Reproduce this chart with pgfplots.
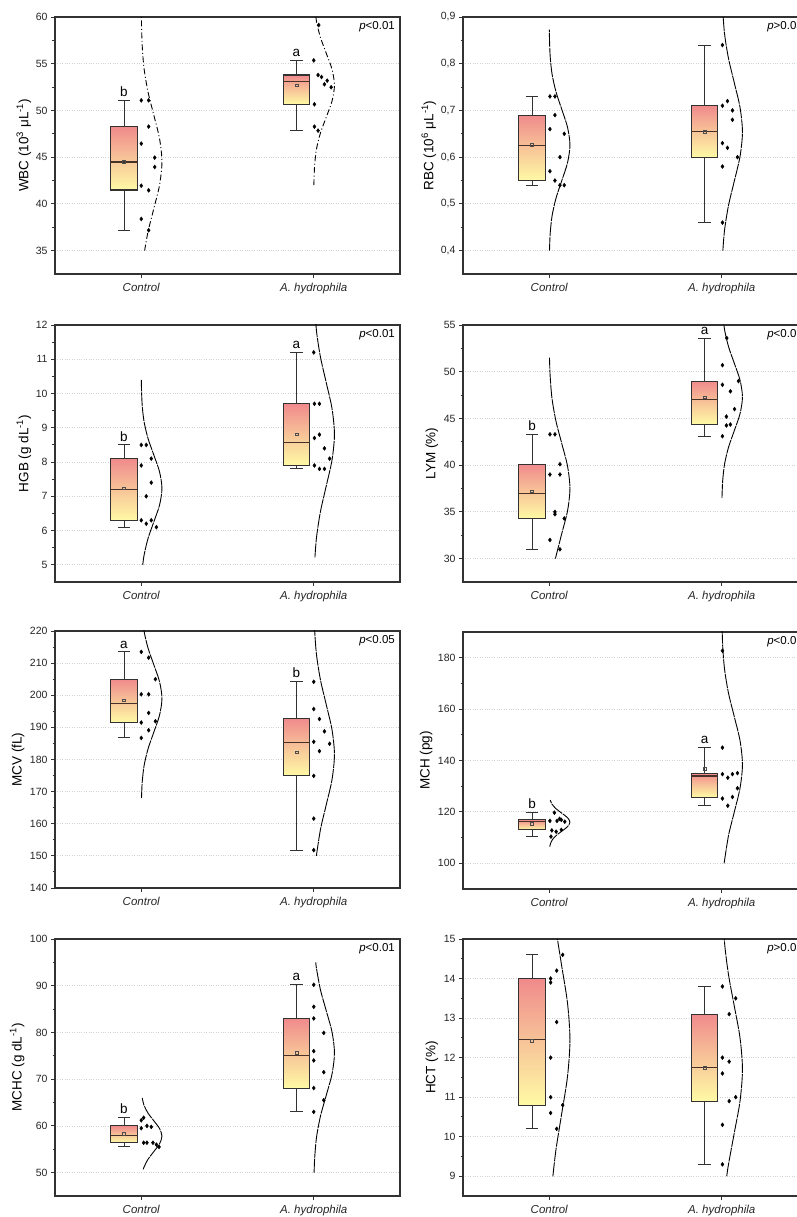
\documentclass[border=0pt]{standalone}
\usepackage{fontspec}
\setmainfont{Liberation Sans}
\usepackage{pgfplots}
\pgfplotsset{compat=1.18}

\definecolor{boxtop}{RGB}{240,138,140}
\definecolor{boxmid}{RGB}{247,196,152}
\definecolor{boxbot}{RGB}{255,250,165}
\definecolor{edge}{RGB}{50,50,50}
\definecolor{medc}{RGB}{70,50,40}

\pgfplotsset{
  /pgf/number format/assume math mode=true,
  panel/.style={
    scale only axis, width=345pt, height=257pt, anchor=south west,
    xmin=0.5, xmax=2.5, xtick={1,2}, xticklabels={Control, A. hydrophila},
    tick pos=left, tick align=outside, minor y tick num=1, minor x tick num=0,
    major tick length=4pt, minor tick length=2.5pt,
    every tick/.style={edge, line width=0.9pt},
    axis line style={edge, line width=1.2pt},
    ymajorgrids, grid style={dotted, black!18, line width=0.8pt},
    yticklabel style={font=\fontsize{10.5}{12}\selectfont, black!85},
    xticklabel style={font=\fontsize{11.5}{13}\selectfont\itshape, black!85, yshift=-2pt},
    ylabel style={font=\fontsize{13.5}{15}\selectfont, anchor=center},
    clip mode=individual,
  },
  whisk/.style={edge, line width=1pt, no markers, unbounded coords=jump},
  boxst/.style={draw=edge, line width=1.1pt, no markers, top color=boxtop, bottom color=boxbot, middle color=boxmid},
  medst/.style={medc, line width=1.2pt, no markers},
  meanst/.style={only marks, mark=square, mark size=1.3pt, mark options={draw=black!70, line width=0.5pt}},
  pts/.style={only marks, mark=diamond*, mark size=2pt, black},
  curve/.style={black, line width=0.9pt, smooth, no markers, dash pattern=on 14pt off 0.9pt},
}
\tikzset{
  lett/.style={anchor=south, inner sep=1pt, yshift=2.5pt, font=\fontsize{13.5}{14}\selectfont},
  pv/.style={anchor=north east, inner sep=0pt, xshift=-5pt, yshift=-4pt, font=\fontsize{11.5}{13}\selectfont},
}

% box: #1 = 0 (Control) or 1 (A. hydrophila); lower whisker, q1, median, q3, upper whisker, mean
\newcommand\bx[7]{%
  \addplot[whisk] coordinates {(#1.9,#2) (#1.9,#6)};
  \addplot[whisk] coordinates {(#1.865,#2) (#1.935,#2) (nan,nan) (#1.865,#6) (#1.935,#6)};
  \addplot[boxst] coordinates {(#1.823,#3) (#1.977,#3) (#1.977,#5) (#1.823,#5)} -- cycle;
  \addplot[medst] coordinates {(#1.823,#4) (#1.977,#4)};
  \addplot[meanst] coordinates {(#1.9,#7)};
}

\begin{document}
\begin{tikzpicture}
\useasboundingbox (0,0) rectangle (797pt,1217pt);
\clip (0,0) rectangle (797pt,1217pt);

% ---------------- WBC
\begin{axis}[panel, at={(55pt,943pt)}, ymin=32.5, ymax=60, ytick={35,40,45,50,55,60},
  ylabel={WBC (10\textsuperscript{3} μL\textsuperscript{-1})}, ylabel style={at={(axis description cs:-0.09,0.5)}}]
\bx{0}{37.18}{41.49}{44.49}{48.27}{51.08}{44.5}
\bx{1}{47.84}{50.66}{53.08}{53.79}{55.36}{52.71}
\addplot[pts] coordinates {(1,51.08) (1.043,51.08) (1.043,48.27) (1,46.45) (1.078,44.95) (1.078,43.95) (1,41.95) (1.043,41.45) (1,38.39) (1.043,37.18)};
\addplot[pts] coordinates {(2.0,55.36) (2.029,59.14) (2.025,53.79) (2.045,53.58) (2.078,53.19) (2.062,52.8) (2.101,52.48) (2.004,50.66) (2.004,48.27) (2.025,47.84)};
\addplot[curve, dash pattern=on 6pt off 2.5pt on 1pt off 2.5pt] coordinates {(1.0197,35) (1.039,37.0) (1.0728,39.5) (1.1059,42.0) (1.12,44.5) (1.1059,47.0) (1.0728,49.5) (1.039,52.0) (1.0162,54.5) (1.0053,57.0) (1.0013,59.5) (1.0003,62.0)};
\addplot[curve, dash pattern=on 6pt off 2.5pt on 1pt off 2.5pt] coordinates {(2.0009,42) (2.0013,42.5) (2.0053,44.2) (2.0162,45.9) (2.039,47.6) (2.0728,49.3) (2.1059,51.0) (2.12,52.7) (2.1059,54.4) (2.0728,56.1) (2.039,57.8) (2.0162,59.5) (2.0053,61.2)};
\node[lett] at (axis cs:0.9,51.08) {b};
\node[lett] at (axis cs:1.9,55.36) {a};
\node[pv] at (rel axis cs:1,1) {\textit{p}<0.01};
\end{axis}

% ---------------- RBC
\begin{axis}[panel, at={(463pt,943pt)}, ymin=0.35, ymax=0.9, ytick={0.4,0.5,0.6,0.7,0.8,0.9},
  yticklabel style={/pgf/number format/.cd, fixed, fixed zerofill, precision=1, use comma},
  ylabel={RBC (10\textsuperscript{6} μL\textsuperscript{-1})}, ylabel style={at={(axis description cs:-0.099,0.5)}}]
\bx{0}{0.54}{0.55}{0.625}{0.69}{0.73}{0.626}
\bx{1}{0.46}{0.60}{0.655}{0.71}{0.84}{0.654}
\addplot[pts] coordinates {(1.004,0.73) (1.033,0.73) (1.033,0.69) (1.004,0.66) (1.087,0.65) (1.062,0.60) (1.004,0.57) (1.033,0.55) (1.062,0.54) (1.087,0.54)};
\addplot[pts] coordinates {(2.004,0.84) (2.004,0.71) (2.033,0.72) (2.062,0.70) (2.062,0.68) (2.004,0.63) (2.033,0.62) (2.091,0.60) (2.004,0.58) (2.004,0.46)};
\addplot[curve] coordinates {(1.0015,0.40) (1.0053,0.436) (1.0162,0.474) (1.039,0.512) (1.0728,0.550) (1.1059,0.588) (1.12,0.626) (1.1059,0.664) (1.0728,0.702) (1.039,0.740) (1.0162,0.778) (1.0053,0.816) (1.0013,0.854) (1.0006,0.873)};
\addplot[curve] coordinates {(2.0064,0.40) (2.0162,0.444) (2.039,0.4965) (2.0728,0.549) (2.1059,0.6015) (2.12,0.654) (2.1059,0.7065) (2.0728,0.759) (2.039,0.8115) (2.0162,0.864) (2.0053,0.9165)};
\node[pv] at (rel axis cs:1,1) {\textit{p}>0.05};
\end{axis}

% ---------------- HGB
\begin{axis}[panel, at={(55pt,635pt)}, ymin=4.5, ymax=12, ytick={5,6,7,8,9,10,11,12},
  ylabel={HGB (g dL\textsuperscript{-1})}, ylabel style={at={(axis description cs:-0.09,0.5)}}]
\bx{0}{6.1}{6.3}{7.2}{8.1}{8.5}{7.23}
\bx{1}{7.8}{7.9}{8.56}{9.7}{11.2}{8.81}
\addplot[pts] coordinates {(1,8.5) (1.029,8.5) (1.058,8.1) (1,7.9) (1.058,7.4) (1.029,7.0) (1,6.3) (1.058,6.3) (1.029,6.2) (1.088,6.1)};
\addplot[pts] coordinates {(2.0,11.2) (2.004,9.7) (2.033,9.7) (2.004,8.7) (2.033,8.8) (2.062,8.4) (2.092,8.1) (2.004,7.9) (2.033,7.8) (2.062,7.8)};
\addplot[curve] coordinates {(1.0089,5.0) (1.0162,5.278) (1.039,5.766) (1.0728,6.254) (1.1059,6.742) (1.12,7.23) (1.1059,7.718) (1.0728,8.206) (1.039,8.694) (1.0162,9.182) (1.0053,9.67) (1.0013,10.158) (1.0006,10.4)};
\addplot[curve] coordinates {(2.0069,5.22) (2.0162,5.81) (2.039,6.56) (2.0728,7.31) (2.1059,8.06) (2.12,8.81) (2.1059,9.56) (2.0728,10.31) (2.039,11.06) (2.0162,11.81) (2.0053,12.56)};
\node[lett] at (axis cs:0.9,8.5) {b};
\node[lett] at (axis cs:1.9,11.2) {a};
\node[pv] at (rel axis cs:1,1) {\textit{p}<0.01};
\end{axis}

% ---------------- LYM
\begin{axis}[panel, at={(463pt,635pt)}, ymin=27.5, ymax=55, ytick={30,35,40,45,50,55},
  ylabel={LYM (\%)}, ylabel style={at={(axis description cs:-0.09,0.5)}}]
\bx{0}{31.0}{34.3}{37.0}{40.1}{43.3}{37.2}
\bx{1}{43.1}{44.4}{47.0}{49.0}{53.6}{47.27}
\addplot[pts] coordinates {(1.004,43.3) (1.033,43.3) (1.062,40.1) (1.004,39.0) (1.062,39.0) (1.033,35.0) (1.033,34.75) (1.087,34.3) (1.004,32.0) (1.062,31.0)};
\addplot[pts] coordinates {(2.029,53.6) (2.004,50.7) (2.004,48.6) (2.097,49.0) (2.05,47.9) (2.074,46.0) (2.027,45.2) (2.027,44.25) (2.05,44.35) (2.004,43.1)};
\addplot[curve] coordinates {(1.0354,30.0) (1.0728,32.7) (1.1059,35.1) (1.12,37.5) (1.1059,39.9) (1.0728,42.3) (1.039,44.7) (1.0162,47.1) (1.0053,49.5) (1.0014,51.5)};
\addplot[curve] coordinates {(2.0013,36.5) (2.0053,38.3) (2.0162,40.1) (2.039,41.9) (2.0728,43.7) (2.1059,45.5) (2.12,47.3) (2.1059,49.1) (2.0728,50.9) (2.039,52.7) (2.0162,54.5) (2.0053,56.3)};
\node[lett] at (axis cs:0.9,43.3) {b};
\node[lett] at (axis cs:1.9,53.6) {a};
\node[pv] at (rel axis cs:1,1) {\textit{p}<0.01};
\end{axis}

% ---------------- MCV
\begin{axis}[panel, at={(55pt,329pt)}, ymin=140, ymax=220, ytick={140,150,160,170,180,190,200,210,220},
  ylabel={MCV (fL)}, ylabel style={at={(axis description cs:-0.107,0.5)}}]
\bx{0}{186.7}{191.5}{197.4}{205.0}{213.5}{198.45}
\bx{1}{151.8}{174.9}{185.2}{192.7}{204.2}{182.3}
\addplot[pts] coordinates {(1,213.5) (1.043,211.7) (1.082,205.0) (1,200.3) (1.043,200.3) (1.043,194.5) (1.082,191.9) (1,191.5) (1.043,189.1) (1,186.7)};
\addplot[pts] coordinates {(2,204.2) (2,195.7) (2.033,192.6) (2.062,188.75) (2.092,184.9) (2,185.5) (2.033,182.6) (2,174.9) (2,161.6) (2,151.8)};
\addplot[curve] coordinates {(1.0015,168) (1.0053,172.75) (1.0162,178) (1.039,183.25) (1.0728,188.5) (1.1059,193.75) (1.12,199) (1.1059,204.25) (1.0728,209.5) (1.039,214.75) (1.0162,220) (1.0053,225.25)};
\addplot[curve] coordinates {(2.0152,150) (2.039,158.25) (2.0728,166) (2.1059,173.75) (2.12,181.5) (2.1059,189.25) (2.0728,197) (2.039,204.75) (2.0162,212.5) (2.0053,220.25) (2.0013,228)};
\node[lett] at (axis cs:0.9,213.5) {a};
\node[lett] at (axis cs:1.9,204.2) {b};
\node[pv] at (rel axis cs:1,1) {\textit{p}<0.05};
\end{axis}

% ---------------- MCH
\begin{axis}[panel, at={(463pt,328pt)}, ymin=90, ymax=190, ytick={100,120,140,160,180},
  ylabel={MCH (pg)}, ylabel style={at={(axis description cs:-0.107,0.5)}}]
\bx{0}{110.4}{113.0}{116.4}{116.9}{119.7}{115.5}
\bx{1}{122.4}{125.7}{134.0}{135.0}{145.0}{136.8}
\addplot[pts] coordinates {(1.03,119.7) (1.06,117.3) (1.004,116.5) (1.045,116.5) (1.07,116.9) (1.09,116.2) (1.015,112.8) (1.07,113.0) (1.04,112.3) (1.01,110.4)};
\addplot[pts] coordinates {(2.004,182.7) (2.004,145) (2.004,134.7) (2.035,133.3) (2.062,134.7) (2.091,135.1) (2.091,129.2) (2.004,125.2) (2.062,125.8) (2.035,122.4)};
\addplot[curve] coordinates {(1.003,106.5) (1.0053,107.25) (1.0162,109) (1.039,110.75) (1.0728,112.5) (1.1059,114.25) (1.12,116) (1.1059,117.75) (1.0728,119.5) (1.039,121.25) (1.0162,123) (1.0058,124.6)};
\addplot[curve] coordinates {(2.0138,100) (2.039,110.75) (2.0728,120.0) (2.1059,129.25) (2.12,138.5) (2.1059,147.75) (2.0728,157) (2.039,166.25) (2.0162,175.5) (2.0053,184.75) (2.0013,194)};
\node[lett] at (axis cs:0.9,119.7) {b};
\node[lett] at (axis cs:1.9,145.0) {a};
\node[pv] at (rel axis cs:1,1) {\textit{p}<0.01};
\end{axis}

% ---------------- MCHC
\begin{axis}[panel, at={(55pt,21pt)}, ymin=45, ymax=100, ytick={50,60,70,80,90,100},
  ylabel={MCHC (g dL\textsuperscript{-1})}, ylabel style={at={(axis description cs:-0.11,0.5)}}]
\bx{0}{55.5}{56.4}{58.0}{60.0}{61.75}{58.3}
\bx{1}{63.0}{68.1}{75.0}{83.0}{90.2}{75.67}
\addplot[pts] coordinates {(1,61.2) (1.014,61.75) (1,59.5) (1.033,60.0) (1.058,59.8) (1.014,56.4) (1.033,56.4) (1.068,56.4) (1.088,56.0) (1.103,55.5)};
\addplot[pts] coordinates {(2,90.2) (2,85.5) (2,83.0) (2.058,79.9) (2,76.0) (2,74.0) (2.058,71.5) (2,68.1) (2.058,65.5) (2,63.0)};
\addplot[curve] coordinates {(1.0119,50.7) (1.0162,51.2) (1.039,52.85) (1.0728,54.5) (1.1059,56.15) (1.12,57.8) (1.1059,59.45) (1.0728,61.1) (1.039,62.75) (1.0162,64.4) (1.0055,66)};
\addplot[curve] coordinates {(2.0021,50) (2.0053,53.1) (2.0162,57.6) (2.039,62.1) (2.0728,66.6) (2.1059,71.1) (2.12,75.6) (2.1059,80.1) (2.0728,84.6) (2.039,89.1) (2.0162,93.6) (2.0117,95)};
\node[lett] at (axis cs:0.9,61.75) {b};
\node[lett] at (axis cs:1.9,90.2) {a};
\node[pv] at (rel axis cs:1,1) {\textit{p}<0.01};
\end{axis}

% ---------------- HCT
\begin{axis}[panel, at={(463pt,21pt)}, ymin=8.5, ymax=15, ytick={9,10,11,12,13,14,15},
  ylabel={HCT (\%)}, ylabel style={at={(axis description cs:-0.09,0.5)}}]
\bx{0}{10.2}{10.8}{12.45}{14.0}{14.6}{12.42}
\bx{1}{9.3}{10.9}{11.75}{13.1}{13.8}{11.74}
\addplot[pts] coordinates {(1.078,14.6) (1.043,14.2) (1.008,14.0) (1.008,13.9) (1.043,12.9) (1.008,12.0) (1.008,11.0) (1.078,10.8) (1.008,10.6) (1.043,10.2)};
\addplot[pts] coordinates {(2.004,13.8) (2.081,13.5) (2.043,13.1) (2.004,12.0) (2.043,11.9) (2.004,11.6) (2.081,11.0) (2.043,10.9) (2.004,10.3) (2.004,9.3)};
\addplot[curve] coordinates {(1.0211,9.0) (1.039,9.675) (1.0728,10.6) (1.1059,11.525) (1.12,12.45) (1.1059,13.375) (1.0728,14.3) (1.039,15.225)};
\addplot[curve] coordinates {(2.0289,9.0) (2.039,9.3) (2.0728,10.1) (2.1059,10.9) (2.12,11.7) (2.1059,12.5) (2.0728,13.3) (2.039,14.1) (2.0162,14.9) (2.0053,15.7)};
\node[pv] at (rel axis cs:1,1) {\textit{p}>0.05};
\end{axis}
\end{tikzpicture}
\end{document}
